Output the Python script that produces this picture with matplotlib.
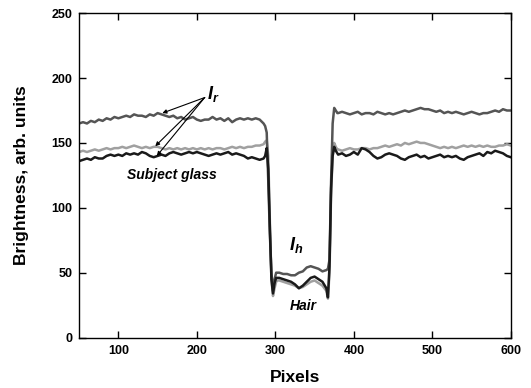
import numpy as np
import matplotlib
matplotlib.use('Agg')
import matplotlib.pyplot as plt

plt.rcParams['font.family'] = ['Liberation Sans', 'DejaVu Sans']
plt.rcParams['mathtext.fontset'] = 'custom'
plt.rcParams['mathtext.it'] = 'Liberation Sans:italic:bold'
plt.rcParams['mathtext.rm'] = 'Liberation Sans:bold'

# pixel positions along the line profile
x_left = list(range(50, 290, 5))
x_drop = [287, 289, 291, 293, 295, 297, 299, 301, 303]
x_hair = list(range(305, 370, 5))
x_rise = [367, 369, 371, 373, 375, 377, 379]
x_right = list(range(380, 605, 5))
pixels = x_left + x_drop + x_hair + x_rise + x_right

# upper profile (dark gray)
upper = [165, 166, 165, 167, 166, 168, 167, 169, 168, 170,
         169, 170, 171, 170, 172, 171, 171, 170, 172, 171,
         173, 172, 171, 170, 171, 169, 170, 168, 169, 170,
         168, 167, 168, 168, 170, 168, 169, 167, 169, 166,
         168, 169, 168, 169, 168, 169, 168, 165,
         163, 158, 120, 80, 50, 36, 45, 50, 50,
         50, 49, 49, 48, 48, 50, 51, 54, 55, 54, 53, 51, 52,
         53, 60, 120, 165, 177, 175, 173,
         173, 174, 173, 172, 173, 174, 172, 173, 173, 172,
         174, 173, 172, 173, 172, 173, 174, 175, 174, 175,
         176, 177, 176, 176, 175, 174, 175, 173, 174, 173,
         174, 173, 172, 173, 174, 173, 172, 173, 173, 174,
         175, 174, 176, 175, 175]

# light gray profile
light = [143, 144, 143, 144, 145, 144, 145, 146, 145, 146,
         146, 147, 146, 147, 148, 147, 146, 147, 146, 147,
         147, 146, 145, 146, 145, 146, 145, 146, 145, 146,
         145, 146, 145, 146, 145, 146, 146, 145, 146, 147,
         146, 147, 146, 147, 147, 148, 148, 149,
         151, 152, 140, 90, 45, 32, 38, 43, 44,
         44, 43, 42, 41, 40, 38, 39, 41, 43, 44, 42, 40, 36,
         30, 50, 110, 140, 150, 147, 145,
         145, 144, 145, 146, 145, 145, 146, 146, 145, 146,
         146, 147, 148, 147, 148, 149, 148, 150, 149, 150,
         151, 150, 150, 149, 148, 147, 146, 147, 146, 147,
         146, 147, 148, 147, 148, 147, 148, 147, 148, 147,
         147, 148, 148, 149, 148]

# black profile
black = [136, 137, 138, 137, 139, 138, 138, 140, 141, 140,
         141, 140, 142, 141, 142, 141, 143, 142, 140, 139,
         140, 141, 140, 142, 143, 142, 141, 142, 143, 142,
         143, 142, 141, 140, 141, 142, 141, 142, 143, 141,
         142, 141, 140, 138, 139, 138, 137, 138,
         140, 146, 130, 85, 45, 34, 42, 46, 46,
         46, 45, 44, 43, 41, 38, 40, 43, 46, 47, 45, 43, 38,
         31, 55, 115, 140, 147, 144, 142,
         141, 142, 140, 141, 143, 141, 146, 145, 143, 140,
         138, 139, 141, 142, 141, 140, 138, 137, 139, 140,
         141, 139, 140, 138, 139, 140, 141, 139, 140, 139,
         140, 138, 137, 139, 140, 141, 142, 140, 143, 142,
         144, 143, 142, 140, 139]

fig = plt.figure(figsize=(5.31, 3.88), dpi=100)
ax = fig.add_axes([0.149, 0.130, 0.813, 0.836])

ax.plot(pixels, light, color='#a0a0a0', linewidth=1.8)
ax.plot(pixels, upper, color='#555555', linewidth=1.8)
ax.plot(pixels, black, color='#1a1a1a', linewidth=1.8)

ax.set_xlim(50, 600)
ax.set_ylim(0, 250)
ax.set_xticks([100, 200, 300, 400, 500, 600])
ax.set_yticks([0, 50, 100, 150, 200, 250])
ax.tick_params(direction='in', length=5, width=1, top=True, right=True,
               labelsize=9, pad=5)
for lab in ax.get_xticklabels() + ax.get_yticklabels():
    lab.set_fontweight('bold')
for sp in ax.spines.values():
    sp.set_linewidth(1)

ax.set_xlabel('Pixels', fontsize=12.5, fontweight='bold', labelpad=10)
ax.set_ylabel('Brightness, arb. units', fontsize=12.5, fontweight='bold', labelpad=16)

# annotations
ax.text(221, 188, r'$I_{r}$', fontsize=13, ha='center', va='center')
for tx, ty in [(156, 173), (147, 147.5), (149, 140)]:
    ax.annotate('', xy=(tx, ty), xytext=(210, 185),
                arrowprops=dict(arrowstyle='-|>', color='black', lw=0.8,
                                mutation_scale=6, shrinkA=0, shrinkB=0))
ax.text(168, 125, 'Subject glass', fontsize=10, fontweight='bold',
        fontstyle='italic', ha='center', va='center')
ax.text(327, 71, r'$I_{h}$', fontsize=13, ha='center', va='center')
ax.text(335, 24, 'Hair', fontsize=10, fontweight='bold',
        fontstyle='italic', ha='center', va='center')

fig.savefig('out.png', dpi=100)
